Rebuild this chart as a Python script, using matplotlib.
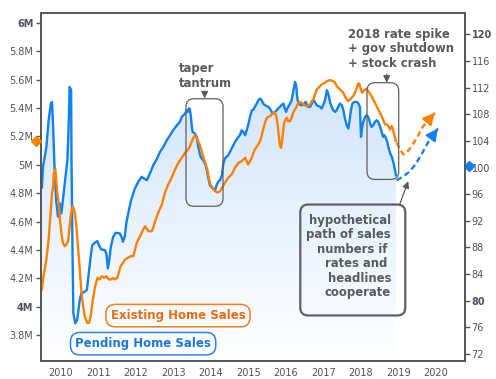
import numpy as np
import matplotlib
matplotlib.use("Agg")
import matplotlib.pyplot as plt
from matplotlib.patches import FancyBboxPatch
from matplotlib.colors import LinearSegmentedColormap
import matplotlib.transforms as mtransforms

# existing home sales, millions (left axis)
existing_t = [2009.49, 2009.52, 2009.61, 2009.67, 2009.73, 2009.76, 2009.79, 2009.81, 2009.85, 2009.87,
              2009.90, 2009.94, 2009.97, 2010.01, 2010.05, 2010.10, 2010.14, 2010.19, 2010.23, 2010.27,
              2010.32, 2010.37, 2010.41, 2010.45, 2010.50, 2010.54, 2010.59, 2010.63, 2010.70, 2010.75,
              2010.79, 2010.85, 2010.91, 2010.97, 2011.03, 2011.09, 2011.15, 2011.21, 2011.27, 2011.33,
              2011.39, 2011.43, 2011.50, 2011.54, 2011.59, 2011.65, 2011.71, 2011.79, 2011.86,
              2011.93, 2012.02, 2012.11, 2012.19, 2012.24, 2012.33, 2012.42, 2012.46, 2012.51, 2012.59,
              2012.69, 2012.77, 2012.86, 2012.95, 2013.04, 2013.13, 2013.22, 2013.31, 2013.39, 2013.44,
              2013.49, 2013.53, 2013.57, 2013.62, 2013.66, 2013.71, 2013.79, 2013.89, 2013.97, 2014.06,
              2014.15, 2014.19, 2014.24,
              2014.37, 2014.46, 2014.55, 2014.64, 2014.73, 2014.82, 2014.91, 2014.95, 2014.99, 2015.04,
              2015.09, 2015.13, 2015.17, 2015.26, 2015.31, 2015.35, 2015.39, 2015.44, 2015.49, 2015.57,
              2015.66, 2015.71, 2015.75, 2015.78, 2015.81, 2015.84, 2015.87, 2015.90, 2015.93, 2015.95,
              2015.99, 2016.02, 2016.06, 2016.11, 2016.15, 2016.19, 2016.24, 2016.29, 2016.33, 2016.37,
              2016.42, 2016.46, 2016.55, 2016.59, 2016.64, 2016.69, 2016.73, 2016.77,
              2016.82, 2016.91, 2016.95, 2017.04, 2017.09, 2017.17, 2017.26, 2017.31, 2017.35, 2017.44,
              2017.53, 2017.57, 2017.62, 2017.66, 2017.71, 2017.79, 2017.84, 2017.89, 2017.91, 2017.95,
              2017.97, 2018.00, 2018.03, 2018.06, 2018.11, 2018.15, 2018.19, 2018.28, 2018.37, 2018.46,
              2018.55, 2018.64, 2018.69, 2018.73, 2018.77, 2018.82, 2018.84, 2018.87, 2018.91, 2018.93]
existing_v = [4.121, 4.192, 4.333, 4.474, 4.685, 4.803, 4.850, 4.944, 4.967, 4.897,
              4.803, 4.732, 4.615, 4.521, 4.450, 4.426, 4.438, 4.462, 4.567, 4.662,
              4.708, 4.662, 4.567, 4.426, 4.262, 4.121, 4.003, 3.933, 3.886, 3.886,
              3.933, 4.050, 4.144, 4.203, 4.192, 4.215, 4.203, 4.215, 4.192, 4.192,
              4.203, 4.192, 4.203, 4.239, 4.285, 4.309, 4.333, 4.345, 4.356,
              4.356, 4.450, 4.497, 4.544, 4.567, 4.532, 4.532, 4.556, 4.603, 4.662,
              4.720, 4.803, 4.861, 4.909, 4.967, 5.014, 5.050, 5.085, 5.108, 5.132,
              5.167, 5.191, 5.207, 5.191, 5.167, 5.132, 5.061, 4.979, 4.873, 4.826,
              4.807, 4.807, 4.814,
              4.873, 4.909, 4.932, 4.979, 5.014, 5.026, 5.050, 5.026, 5.003, 5.026,
              5.050, 5.085, 5.108, 5.144, 5.167, 5.202, 5.249, 5.297, 5.332, 5.343,
              5.367, 5.367, 5.332, 5.273, 5.202, 5.132, 5.120, 5.179, 5.249, 5.297,
              5.320, 5.332, 5.308, 5.308, 5.332, 5.367, 5.390, 5.414, 5.438, 5.442,
              5.438, 5.426, 5.414, 5.414, 5.426, 5.449, 5.461, 5.496,
              5.531, 5.555, 5.567, 5.579, 5.590, 5.597, 5.590, 5.579, 5.555, 5.531,
              5.508, 5.484, 5.461, 5.449, 5.461, 5.484, 5.508, 5.543, 5.567, 5.574,
              5.555, 5.531, 5.508, 5.520, 5.531, 5.536, 5.520, 5.484, 5.438, 5.390,
              5.343, 5.285, 5.285, 5.273, 5.249, 5.273, 5.261, 5.226, 5.191, 5.167]

# pending home sales index (right axis)
pending_t = [2009.49, 2009.52, 2009.61, 2009.67, 2009.73, 2009.76, 2009.79, 2009.83, 2009.87, 2009.92,
             2009.97, 2010.01, 2010.05, 2010.10, 2010.17, 2010.20, 2010.23, 2010.27, 2010.28, 2010.31,
             2010.33, 2010.38, 2010.43, 2010.50, 2010.54, 2010.63, 2010.69, 2010.74, 2010.78, 2010.83,
             2010.90, 2010.97, 2011.01, 2011.07, 2011.17, 2011.21, 2011.25, 2011.28, 2011.33, 2011.39,
             2011.46, 2011.57, 2011.63, 2011.65, 2011.70, 2011.74, 2011.81, 2011.87,
             2011.97, 2012.06, 2012.15, 2012.21, 2012.29, 2012.37, 2012.46, 2012.55, 2012.64, 2012.73,
             2012.82, 2012.91, 2012.99, 2013.09, 2013.17, 2013.22, 2013.31, 2013.35, 2013.38, 2013.41,
             2013.43, 2013.46, 2013.49, 2013.51, 2013.57, 2013.62, 2013.66, 2013.71, 2013.75, 2013.79,
             2013.84, 2013.89, 2013.93, 2013.97, 2014.02, 2014.06, 2014.11, 2014.15, 2014.19, 2014.24,
             2014.29, 2014.33,
             2014.37, 2014.46, 2014.55, 2014.64, 2014.73, 2014.77, 2014.82, 2014.86, 2014.91, 2014.95,
             2014.99, 2015.04, 2015.09, 2015.13, 2015.17, 2015.22, 2015.26, 2015.31, 2015.35, 2015.39,
             2015.44, 2015.53, 2015.57, 2015.62, 2015.66, 2015.71, 2015.79, 2015.88, 2015.93, 2015.97,
             2016.00, 2016.03, 2016.11, 2016.15, 2016.19, 2016.24, 2016.27, 2016.29, 2016.31, 2016.35,
             2016.40, 2016.43, 2016.49, 2016.53, 2016.56, 2016.59, 2016.64, 2016.69, 2016.73, 2016.77,
             2016.82, 2016.91, 2016.95, 2016.99, 2017.04, 2017.09, 2017.11, 2017.15, 2017.17, 2017.22,
             2017.26, 2017.31, 2017.35, 2017.39, 2017.44, 2017.49, 2017.53, 2017.57, 2017.62, 2017.66,
             2017.69, 2017.73, 2017.77, 2017.82, 2017.89, 2017.93, 2017.97, 2018.00, 2018.03, 2018.06,
             2018.11, 2018.15, 2018.19, 2018.22, 2018.26, 2018.28, 2018.33, 2018.37, 2018.42, 2018.46,
             2018.51, 2018.55, 2018.59, 2018.62, 2018.65, 2018.70, 2018.75, 2018.78, 2018.82, 2018.86,
             2018.89, 2018.93]
pending_v = [97.0, 100.1, 103.1, 107.1, 109.6, 109.85, 106.1, 99.6, 95.1, 92.6,
             94.6, 93.1, 95.1, 97.6, 101.1, 105.6, 112.1, 111.6, 101.1, 86.1,
             78.1, 76.6, 77.1, 80.1, 81.1, 81.35, 81.6, 84.1, 86.1, 88.3,
             88.7, 88.95, 88.35, 87.7, 87.6, 87.1, 84.85, 85.85, 88.1, 89.6,
             90.2, 90.1, 89.35, 88.85, 89.6, 91.6, 93.6, 95.1,
             96.85, 97.85, 98.6, 98.35, 98.1, 99.1, 100.35, 101.2, 102.35, 103.1,
             104.1, 104.85, 105.6, 106.35, 106.85, 107.6, 108.1, 108.6, 108.35, 108.85,
             108.85, 107.85, 106.1, 105.35, 105.1, 104.6, 103.1, 101.85, 101.35, 101.1,
             100.6, 99.6, 98.35, 97.35, 97.0, 96.85, 96.6, 97.35, 97.85, 98.1,
             98.85, 100.6,
             101.35, 101.85, 102.85, 103.85, 104.6, 104.85, 105.6, 105.35, 104.85, 105.6,
             106.35, 107.6, 108.6, 108.7, 109.1, 109.6, 110.1, 110.35, 110.1, 109.6,
             109.35, 109.1, 108.85, 108.35, 108.1, 108.35, 108.85, 109.35, 109.6, 108.85,
             108.35, 108.85, 109.6, 110.1, 111.35, 112.85, 112.35, 111.1, 110.1, 109.6,
             109.35, 109.35, 109.6, 109.85, 109.35, 109.1, 109.1, 109.6, 110.1, 109.85,
             109.35, 109.1, 108.85, 109.35, 110.1, 111.6, 111.35, 110.6, 109.85, 109.1,
             108.6, 108.35, 108.6, 109.1, 109.6, 109.35, 108.6, 107.35, 106.35, 105.85,
             106.85, 108.6, 109.6, 109.85, 109.85, 109.6, 109.1, 104.6, 106.1, 106.85,
             107.6, 107.85, 107.6, 107.1, 106.35, 106.1, 106.35, 106.85, 107.1, 106.85,
             106.1, 105.35, 104.6, 104.85, 104.6, 103.85, 102.6, 102.1, 101.6, 100.85,
             100.1, 98.85]

# hypothetical paths (dashed)
existing_proj_t = [2018.95, 2019.04, 2019.13, 2019.22, 2019.35, 2019.49, 2019.66, 2019.97]
existing_proj_v = [5.156, 5.108, 5.073, 5.085, 5.132, 5.191, 5.273, 5.367]
pending_proj_t = [2018.95, 2019.11, 2019.29, 2019.47, 2019.65, 2019.82, 2020.05]
pending_proj_v = [98.1, 98.6, 99.35, 100.6, 102.35, 104.1, 105.85]

# last-value markers on the axes
existing_last = 5.17
pending_last = 100.3

left_ticks = [3.8, 4.0, 4.2, 4.4, 4.6, 4.8, 5.0, 5.2, 5.4, 5.6, 5.8, 6.0]
left_labels = ["3.8M", "4M", "4.2M", "4.4M", "4.6M", "4.8M", "5M", "5.2M", "5.4M", "5.6M", "5.8M", "6M"]
right_ticks = [72, 76, 80, 84, 88, 92, 96, 100, 104, 108, 112, 116, 120]
year_ticks = [2010, 2011, 2012, 2013, 2014, 2015, 2016, 2017, 2018, 2019, 2020]
bold_labels = ["4M", "6M", "80", "120"]

BLUE = "#1080f2"
ORANGE = "#ff8000"
GRAY = "#5a5a5a"
TICKC = "#505060"

fig = plt.figure(figsize=(4.96, 3.79), dpi=100)
ax = fig.add_axes([0.0827, 0.0483, 0.8542, 0.9174])
ax2 = ax.twinx()
ax.set_zorder(ax2.get_zorder() + 1)
ax.patch.set_visible(False)

xlim = (2009.467, 2020.765)
ylim_l = (3.619, 6.0705)
ylim_r = (70.99, 123.2)

# gradient fill under the pending line
cmap = LinearSegmentedColormap.from_list("fade", ["#ffffff", "#c6dffa"])
poly = ax2.fill_between(pending_t, pending_v, ylim_r[0], facecolor="none", edgecolor="none")
grad = np.linspace(1, 0, 256).reshape(-1, 1)
img = ax2.imshow(grad, extent=[xlim[0], xlim[1], ylim_r[0], ylim_r[1]], origin="upper",
                 cmap=cmap, vmin=0, vmax=1, aspect="auto", zorder=0.5)
img.set_clip_path(poly.get_paths()[0], transform=ax2.transData)

ax2.plot(pending_t, pending_v, color=BLUE, lw=1.7, zorder=2)
ax.plot(existing_t, existing_v, color=ORANGE, lw=1.7, zorder=2)

# dashed hypothetical paths with arrow heads
head = dict(arrowstyle="-|>,head_length=0.75,head_width=0.38", lw=1.2,
            shrinkA=0, shrinkB=0, mutation_scale=10)
ax.plot(existing_proj_t, existing_proj_v, color=ORANGE, lw=1.7, dashes=(2.4, 1.5))
ax.annotate("", xy=(existing_proj_t[-1], existing_proj_v[-1]),
            xytext=(existing_proj_t[-1] - 0.4 * (existing_proj_t[-1] - existing_proj_t[-2]),
                    existing_proj_v[-1] - 0.4 * (existing_proj_v[-1] - existing_proj_v[-2])),
            arrowprops=dict(color=ORANGE, **head))
ax2.plot(pending_proj_t, pending_proj_v, color=BLUE, lw=1.7, dashes=(2.4, 1.5))
ax2.annotate("", xy=(pending_proj_t[-1], pending_proj_v[-1]),
             xytext=(pending_proj_t[-1] - 0.4 * (pending_proj_t[-1] - pending_proj_t[-2]),
                     pending_proj_v[-1] - 0.4 * (pending_proj_v[-1] - pending_proj_v[-2])),
             arrowprops=dict(color=BLUE, **head))

ax.set_xlim(*xlim)
ax.set_ylim(*ylim_l)
ax2.set_ylim(*ylim_r)

# axes styling
for a in (ax, ax2):
    for s in a.spines.values():
        s.set_color("#555555")
        s.set_linewidth(1.2)
ax.set_yticks(left_ticks)
ax.set_yticklabels(left_labels)
ax2.set_yticks(right_ticks)
ax2.set_yticklabels([str(v) for v in right_ticks])
ax.set_xticks(year_ticks)
ax.set_xticklabels([str(y) for y in year_ticks])
ax.tick_params(axis="y", direction="out", length=3.5, width=1, color="#555555", pad=2,
               labelsize=7, labelcolor=TICKC)
ax2.tick_params(axis="y", direction="out", length=3.5, width=1, color="#555555", pad=1.5,
                labelsize=7, labelcolor=TICKC)
ax.tick_params(axis="x", length=0, pad=5, labelsize=7, labelcolor=TICKC)
for lab in ax.get_yticklabels() + ax2.get_yticklabels():
    if lab.get_text() in bold_labels:
        lab.set_fontweight("bold")

# last value diamonds
ax.plot([-0.0125], [existing_last], marker="D", ms=5, color=ORANGE, clip_on=False,
        transform=mtransforms.blended_transform_factory(ax.transAxes, ax.transData), zorder=5)
ax2.plot([1.011], [pending_last], marker="D", ms=5, color=BLUE, clip_on=False,
         transform=mtransforms.blended_transform_factory(ax2.transAxes, ax2.transData), zorder=5)

# rounded highlight boxes (data coords of left axis)
px_x = 0.8542 * 496 / (xlim[1] - xlim[0])
px_y = 0.9174 * 379 / (ylim_l[1] - ylim_l[0])
aspect = px_x / px_y


def rbox(x0, y0, x1, y1, lw):
    r = 8 / px_x
    p = FancyBboxPatch((x0, y0), x1 - x0, y1 - y0,
                       boxstyle="round,pad=0,rounding_size=%f" % r, mutation_aspect=aspect,
                       fc="none", ec="#606060", lw=lw, zorder=4, clip_on=False)
    ax.add_patch(p)


rbox(2013.333, 4.708, 2014.32, 5.466, 0.9)
rbox(2018.16, 4.897, 2019.005, 5.579, 0.9)
rbox(2016.381, 3.938, 2019.18, 4.720, 1.6)

fkw = dict(fontsize=8.4, fontweight="bold", color=GRAY, zorder=6)
ax.text(2013.15, 5.725, "taper\ntantrum", ha="left", va="top", linespacing=1.15, **fkw)
ax.text(2017.645, 5.965, "2018 rate spike\n+ gov shutdown\n+ stock crash", ha="left", va="top",
        linespacing=1.15, **fkw)
ax.text(2018.8, 4.655, "hypothetical\npath of sales\nnumbers if \nrates and \nheadlines\ncooperate",
        ha="right", va="top", multialignment="right", linespacing=1.15, **fkw)

akw = dict(arrowstyle="-|>,head_length=0.5,head_width=0.25", color=GRAY, lw=0.9,
           shrinkA=0, shrinkB=0, mutation_scale=8)
ax.annotate("", xy=(2013.83, 5.468), xytext=(2013.83, 5.515), arrowprops=akw)
ax.annotate("", xy=(2018.685, 5.579), xytext=(2018.685, 5.64), arrowprops=akw)
ax.annotate("", xy=(2019.26, 4.885), xytext=(2019.04, 4.728), arrowprops=akw)

# series labels
ax.text(2013.12, 3.937, "Existing Home Sales", ha="center", va="center", fontsize=8.5,
        fontweight="bold", color="#f06a14", zorder=6,
        bbox=dict(boxstyle="round,pad=0.4,rounding_size=0.8", fc="none", ec="#f57c20", lw=1.1))
ax.text(2012.19, 3.739, "Pending Home Sales", ha="center", va="center", fontsize=8.5,
        fontweight="bold", color="#1a78e6", zorder=6,
        bbox=dict(boxstyle="round,pad=0.4,rounding_size=0.8", fc="none", ec="#2a85ee", lw=1.1))

plt.savefig("out.png", dpi=100)
